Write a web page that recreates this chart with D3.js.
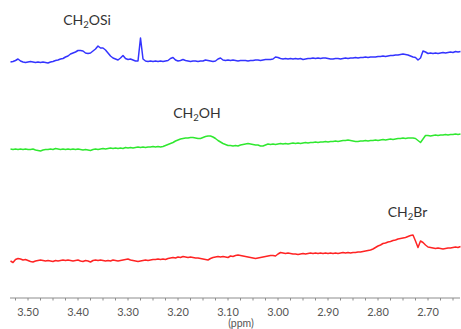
<!DOCTYPE html>
<html>
<head>
<meta charset="utf-8">
<script src="https://cdn.jsdelivr.net/npm/d3@7"></script>
<style>
  html, body { margin: 0; padding: 0; background: #fff; }
  svg { display: block; }
</style>
</head>
<body>
<svg id="chart" width="461" height="329"></svg>
<script>
// chemical shift sampling grid (ppm)
const ppm = [
3.535,3.530,3.525,3.520,3.515,3.510,3.505,3.500,3.495,3.490,
3.485,3.480,3.475,3.470,3.465,3.460,3.455,3.450,3.445,3.440,
3.435,3.430,3.425,3.420,3.415,3.410,3.405,3.400,3.395,3.390,
3.385,3.380,3.375,3.370,3.365,3.360,3.355,3.350,3.345,3.340,
3.335,3.330,3.325,3.320,3.315,3.310,3.305,3.300,3.295,3.290,
3.285,3.280,3.275,3.270,3.265,3.260,3.255,3.250,3.245,3.240,
3.235,3.230,3.225,3.220,3.215,3.210,3.205,3.200,3.195,3.190,
3.185,3.180,3.175,3.170,3.165,3.160,3.155,3.150,3.145,3.140,
3.135,3.130,3.125,3.120,3.115,3.110,3.105,3.100,3.095,3.090,
3.085,3.080,3.075,3.070,3.065,3.060,3.055,3.050,3.045,3.040,
3.035,3.030,3.025,3.020,3.015,3.010,3.005,3.000,2.995,2.990,
2.985,2.980,2.975,2.970,2.965,2.960,2.955,2.950,2.945,2.940,
2.935,2.930,2.925,2.920,2.915,2.910,2.905,2.900,2.895,2.890,
2.885,2.880,2.875,2.870,2.865,2.860,2.855,2.850,2.845,2.840,
2.835,2.830,2.825,2.820,2.815,2.810,2.805,2.800,2.795,2.790,
2.785,2.780,2.775,2.770,2.765,2.760,2.755,2.750,2.745,2.740,
2.735,2.730,2.725,2.720,2.715,2.710,2.705,2.700,2.695,2.690,
2.685,2.680,2.675,2.670,2.665,2.660,2.655,2.650,2.645,2.640,
2.635
];

// intensities (arbitrary units), top trace: CH2OSi (blue)
const blueSpectrum = [
36,36.5,37.5,39,37,36,35.5,36,36.5,36,
35.5,36,35.5,36,35.5,35,36,36.5,37.5,38,
39,39.5,41,42,44,45,46,47.5,47.5,47,
45,44.5,45,47,49,52,50,50,48,45,
42,40,39,38,40,42.5,39.5,38.5,39,38,
37,37,60,39,37,36.5,37,36.5,37,36.5,
37,36.5,37,37.5,39.5,40.5,38,37,37.5,38.5,
37.5,37,36.5,37,37,36.5,37,37,38,37.5,
37,36.5,37,39,40,38,37.5,38,37.5,38,
37.5,37,37.5,37.5,37.5,37,37.5,37.5,38,38,
37.5,38,38.5,38.5,38.5,39,41,40.5,39.5,39,
39.5,39,39.5,39,39.5,39,39.5,38.5,39,39.5,
39.5,40,39.5,40,39.5,40,40,39.5,39,39,
39.5,39.5,39,39.5,40,39.5,40,40,40.5,40,
40.5,40.5,41,40.5,41,41,41,41.5,41.5,42,
41.5,42,42.5,42.5,43,43,43.5,44,43.5,43,
42,41,40.5,38,40,47,46,44.5,45,44.5,
45,44.5,45,45.5,45,45.5,46,45.5,46.5,46,
46.5
];

// middle trace: CH2OH (green)
const greenSpectrum = [
39,38.5,39,38.5,39,38.5,39,38.5,38.5,39,
38,37.5,37,38,38.5,38.5,39,38.5,39.5,39,
38.5,39,38.5,39,38.5,39,38.5,39,38.5,38,
38.5,38,37.5,38.5,39,38.5,39,39.5,39,39.5,
40,39.5,40,39.5,40,39.5,40.5,40,40.5,40,
40.5,41,40.5,41,40.5,41,41,41.5,41,41.5,
41,41.5,42.5,43.5,44.5,45.5,47,48,49,49.5,
50,50,50.5,50.5,50,49.5,49.5,50.5,51.5,52,
52,51,49.5,47.5,46,44.5,43.5,42.5,42.5,42,
42.5,42,43,43.5,44,44.5,44,43.5,43,43,
42,42,43,44,43.5,44,43.5,44,44.5,44,
44.5,44,44.5,45,44.5,45,44.5,45,45.5,45,
45.5,45.5,46,45.5,46,46,46.5,46,46.5,46.5,
47,46.5,47,47.5,47.5,48,47.5,47,46.5,46.5,
47,47,47.5,47,47.5,47.5,48,47.5,48,48.5,
48,48.5,49,48.5,49,49.5,49.5,50,49.5,50,
50,50,49.5,47.5,45.5,49,52.5,52.5,52,52.5,
53,52.5,53,53,53.5,53,53.5,53.5,54,53.5,
54
];

// bottom trace: CH2Br (red)
const redSpectrum = [
37,35.5,38.5,39.5,39,38,38.5,37.5,36.5,36,
37,37.5,38,37.5,37,37.5,37,36.5,37.5,37,
37.5,38,37.5,38,37.5,37,37.5,38,37,36.5,
37.5,37,36,37.5,38,37.5,38,37.5,37,37.5,
37,38,37.5,37,37.5,38,38.5,39,38,37.5,
37,36.5,37,37.5,38,37.5,38,38.5,38.5,39,
38.5,39,38.5,39.5,40,40.5,40,41,40.5,41.5,
41,40.5,41,40.5,40,40,39.5,39,38.5,38,
39.5,40.5,41,41.5,41,41.5,41,40.5,42,41.5,
42.5,43,42.5,42,41.5,41,40.5,40,39.5,40,
40.5,41,41.5,42,42.5,42.5,42,44,45.5,45,
44.5,45,44.5,44,44,43.5,44,44.5,44,44.5,
45,44.5,45,44.5,45,44.5,45,44.5,45,44.5,
45,44.5,45,45.5,45,45.5,45,45.5,45.5,46,
46,46.5,47,47.5,48,49,50.5,52,53,54.5,
55,56,56.5,57.5,58,59,59.5,60,60.5,61.5,
62.5,63,57,50.5,57,55.5,53,51,50.5,50,
49.5,50,49.5,49,49.5,50,50,50.5,51,50.5,
51.5
];

const seriesNames = ["CH2OSi", "CH2OH", "CH2Br"];
const seriesColors = ["#3434ff", "#30e830", "#ff2424"];
const stackOffsets = [200, 110, 0];   // vertical stacking of the spectra

// peak annotations: [main, subscript, rest], position (ppm) and height (stacked units)
const labelMain = ["CH", "CH", "CH"];
const labelSub = ["2", "2", "2"];
const labelRest = ["OSi", "OH", "Br"];
const labelPpm = [3.382, 3.162, 2.741];
const labelHeight = [273, 180, 81];

const majorTicks = [3.50, 3.40, 3.30, 3.20, 3.10, 3.00, 2.90, 2.80, 2.70];
const majorTickLabels = ["3.50", "3.40", "3.30", "3.20", "3.10", "3.00", "2.90", "2.80", "2.70"];
const minorTicks = [3.525,3.500,3.475,3.450,3.425,3.400,3.375,3.350,3.325,3.300,3.275,3.250,
  3.225,3.200,3.175,3.150,3.125,3.100,3.075,3.050,3.025,3.000,2.975,2.950,2.925,2.900,
  2.875,2.850,2.825,2.800,2.775,2.750,2.725,2.700,2.675,2.650];
const axisTitle = "(ppm)";

const svg = d3.select("#chart");
const W = 461, H = 329;
const x = d3.scaleLinear().domain([3.535, 2.635]).range([10.5, 460.5]);
const y = d3.scaleLinear().domain([0, 298]).range([298, 0]);

const spectra = [blueSpectrum, greenSpectrum, redSpectrum];
const line = d3.line().x(d => x(d[0])).y(d => y(d[1])).curve(d3.curveLinear);

spectra.forEach((vals, k) => {
  const pts = ppm.map((p, i) => [p, vals[i] + stackOffsets[k]]);
  svg.append("path")
    .datum(pts)
    .attr("fill", "none")
    .attr("stroke", seriesColors[k])
    .attr("stroke-width", 1.5)
    .attr("stroke-linejoin", "round")
    .attr("d", line);
});

// labels
const font = "Lato, 'Open Sans', sans-serif";
labelMain.forEach((m, k) => {
  const t = svg.append("text")
    .attr("x", x(labelPpm[k]))
    .attr("y", y(labelHeight[k]))
    .attr("text-anchor", "middle")
    .attr("font-family", font)
    .attr("font-size", 14)
    .attr("fill", "#333");
  t.append("tspan").text(m);
  t.append("tspan").attr("font-size", 9.5).attr("dy", 3).text(labelSub[k]);
  t.append("tspan").attr("dy", -3).text(labelRest[k]);
});

// axis
const axisY = 298;
const gAxis = svg.append("g").attr("transform", `translate(0,${axisY})`);
gAxis.append("line")
  .attr("x1", 10).attr("x2", 460)
  .attr("stroke", "#8c8c8c").attr("stroke-width", 1);
gAxis.selectAll("line.minor").data(minorTicks).enter().append("line")
  .attr("class", "minor")
  .attr("x1", d => x(d)).attr("x2", d => x(d))
  .attr("y1", 0).attr("y2", 2.5)
  .attr("stroke", "#8c8c8c").attr("stroke-width", 1);
gAxis.selectAll("text.tick").data(majorTicks).enter().append("text")
  .attr("class", "tick")
  .attr("x", d => x(d))
  .attr("y", 18)
  .attr("text-anchor", "middle")
  .attr("font-family", font)
  .attr("font-size", 11)
  .attr("fill", "#555")
  .text((d, i) => majorTickLabels[i]);
svg.append("text")
  .attr("x", 241).attr("y", 327)
  .attr("text-anchor", "middle")
  .attr("font-family", font)
  .attr("font-size", 10.5)
  .attr("fill", "#555")
  .text(axisTitle);
</script>
</body>
</html>
